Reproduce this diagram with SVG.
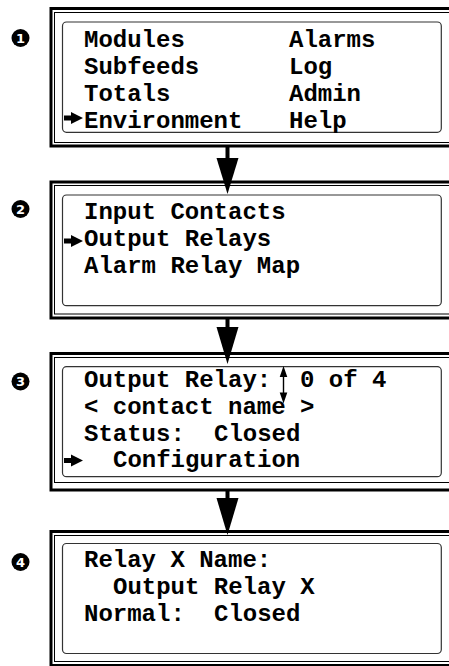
<svg xmlns="http://www.w3.org/2000/svg" width="449" height="666" viewBox="0 0 449 666">
<style>
.thick{fill:none;stroke:#000;stroke-width:3}
.thin{fill:none;stroke:#000;stroke-width:1}
.inner{fill:#fff;stroke:#333;stroke-width:1.2}
.t{font-family:"Liberation Mono","Courier New",monospace;font-weight:bold;font-size:24px;fill:#000}
.num{font-family:"DejaVu Sans","Liberation Sans",sans-serif;font-weight:bold;font-size:13px;fill:#fff;text-anchor:middle}
</style>
<defs>
<path id="ptr" d="M0,-2.5 H7 V-6 L19,0 L7,6 V2.5 H0 Z"/>
</defs>
<rect width="449" height="666" fill="#fff"/>

<g id="node1">
<rect class="thick" x="51" y="8.5" width="430" height="137.5"/>
<rect class="thin" x="54.5" y="12.5" width="430" height="130"/>
<rect class="inner" x="62.5" y="22" width="378.8" height="110.3" rx="4"/>
<circle cx="20.5" cy="38" r="9"/>
<text class="num" x="20.5" y="42.6">1</text>
<text class="t" x="84" y="47">Modules</text>
<text class="t" x="289" y="47">Alarms</text>
<text class="t" x="84" y="74">Subfeeds</text>
<text class="t" x="289" y="74">Log</text>
<text class="t" x="84" y="101">Totals</text>
<text class="t" x="289" y="101">Admin</text>
<text class="t" x="84" y="128">Environment</text>
<text class="t" x="289" y="128">Help</text>
<use href="#ptr" x="64" y="118"/>
</g>

<g id="node2">
<rect class="thick" x="51" y="182" width="430" height="136"/>
<rect class="thin" x="54.5" y="185.5" width="430" height="128.5"/>
<rect class="inner" x="62.5" y="195" width="378.8" height="110.7" rx="4"/>
<circle cx="20.5" cy="209" r="9"/>
<text class="num" x="20.5" y="213.6">2</text>
<text class="t" x="84" y="219">Input Contacts</text>
<text class="t" x="84" y="246">Output Relays</text>
<text class="t" x="84" y="273">Alarm Relay Map</text>
<use href="#ptr" x="64" y="241"/>
</g>

<g id="node3">
<rect class="thick" x="51" y="353.5" width="430" height="136.5"/>
<rect class="thin" x="54.5" y="357.5" width="430" height="125"/>
<rect class="inner" x="62.5" y="366.7" width="378.8" height="110" rx="4"/>
<circle cx="20.5" cy="381.5" r="9"/>
<text class="num" x="20.5" y="386.1">3</text>
<text class="t" x="84" y="387">Output Relay:</text>
<text class="t" x="300" y="387">0 of 4</text>
<text class="t" x="84" y="414">&lt; contact name &gt;</text>
<text class="t" x="84" y="441">Status:</text>
<text class="t" x="214" y="441">Closed</text>
<text class="t" x="113" y="467">Configuration</text>
<use href="#ptr" x="64" y="460.5"/>
<g id="updown">
<line x1="283.5" y1="374" x2="283.5" y2="395" stroke="#000" stroke-width="1.4"/>
<path d="M283.5,366 L287.3,377 L279.7,377 Z M283.5,403.5 L287.3,392.5 L279.7,392.5 Z" fill="#000"/>
</g>
</g>

<g id="node4">
<rect class="thick" x="51" y="531.5" width="430" height="134"/>
<rect class="thin" x="54.5" y="535.5" width="430" height="126"/>
<rect class="inner" x="62.5" y="543.5" width="378.8" height="110" rx="4"/>
<circle cx="20.5" cy="562" r="9"/>
<text class="num" x="20.5" y="566.6">4</text>
<text class="t" x="84" y="567">Relay X Name:</text>
<text class="t" x="113" y="594">Output Relay X</text>
<text class="t" x="84" y="621">Normal:</text>
<text class="t" x="214" y="621">Closed</text>
</g>

<g id="connectors" fill="#000">
<rect x="225.5" y="147" width="4" height="12"/>
<path d="M216.5,158 L238.5,158 L227.5,194 Z"/>
<rect x="225.5" y="319" width="4" height="9"/>
<path d="M216.5,327 L238.5,327 L227.5,364 Z"/>
<rect x="225.5" y="491" width="4" height="8"/>
<path d="M216.5,498 L238.5,498 L227.5,535 Z"/>
</g>
</svg>
